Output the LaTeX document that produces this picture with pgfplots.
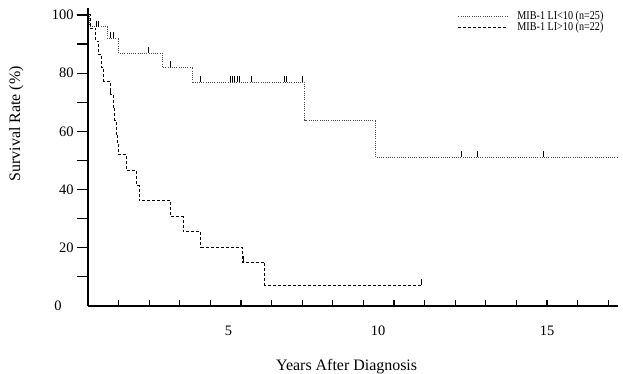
\documentclass[border=0pt]{standalone}
\usepackage{fontspec}
\setmainfont{Liberation Serif}
\usepackage{graphicx}
\usepackage{pgfplots}
\pgfplotsset{compat=1.18}
\newcommand{\mytf}{\fontsize{14.5}{16}\selectfont}
\newcommand{\mylf}{\fontsize{16}{18}\selectfont}
\pgfplotsset{
  common/.style={
    at={(0,0)}, anchor=south west,
    x=30.6bp, y=2.91bp,
    xmin=0, xmax=17.32, ymin=0, ymax=102.4,
    clip=false,
    /pgf/number format/assume math mode=true,
    tick style={line width=1.2bp, black},
  }
}
\begin{document}
\begin{tikzpicture}
\path[use as bounding box] (-88bp,-68bp) rectangle (535bp,306bp);
% main axis: curves, axis lines, x labels
\begin{axis}[
  common,
  axis lines=left,
  axis line style={line width=1.6bp, -},
  xtick=\empty, ytick=\empty,
  extra x ticks={4.59,9.48,15}, extra x tick labels={{\mytf 5},{\mytf 10},{\mytf 15}},
  extra x tick style={tick style={draw=none}, xticklabel style={yshift=-14.5bp}},
  xlabel={\mylf Years After Diagnosis}, ylabel={\mylf Survival Rate (\%)},
  xlabel style={at={(axis description cs:0.488,0)}, anchor=base, yshift=-64.5bp},
  ylabel style={at={(axis description cs:-0.128,0.611)}, anchor=base},
  legend style={draw=none, fill=none, at={(axis cs:12.09,101.3)}, anchor=north west,
    inner sep=0pt, outer sep=0pt, row sep=0pt, column sep=9.5bp,
    font=\fontsize{12}{12}\selectfont,
    nodes={inner sep=0pt, text height=8.4bp, text depth=2.6bp}},
  legend cell align=left,
  legend image code/.code={\draw[#1] (0bp,0bp) -- (49bp,0bp);},
]
% MIB-1 LI<10 (n=25)
\addplot[const plot, black!70, line width=1bp, dash pattern=on 1bp off 1.2bp] coordinates {
(0,100) (0.05,96) (0.63,92) (1.01,86.8) (2.44,82.0) (3.43,76.9) (7.09,63.9) (9.41,51.1) (17.32,51.1)};
\addlegendentry{\scalebox{0.85}[1]{MIB-1 LI<10 (n=25)}}
% MIB-1 LI>10 (n=22)
\addplot[const plot, black, line width=1bp, dash pattern=on 3bp off 2bp] coordinates {
(0,100) (0.08,95.5) (0.25,90.9) (0.35,86.4) (0.45,81.8) (0.52,77.3) (0.72,72.7) (0.82,68.2)
(0.88,63.6) (0.93,59.1) (0.97,55.5) (1.01,51.9) (1.26,46.5) (1.60,41.3) (1.67,36.1) (2.70,30.7)
(3.12,25.5) (3.69,20.2) (5.04,15.0) (5.78,7.2) (10.9,7.2)};
\addlegendentry{\scalebox{0.85}[1]{MIB-1 LI>10 (n=22)}}
% censor marks
\addplot[only marks, mark=|, mark size=3bp, mark options={solid, yshift=3bp, line width=0.9bp, black}, forget plot] coordinates {
(0.26,96) (0.33,96) (0.74,92) (0.83,92) (1.97,86.8) (2.68,82.0) (3.66,76.9)
(4.64,76.9) (4.72,76.9) (4.80,76.9) (4.88,76.9) (4.96,76.9) (5.33,76.9) (6.41,76.9) (6.49,76.9) (7.02,76.9)
(12.21,51.1) (12.72,51.1) (14.88,51.1)};
\addplot[only marks, mark=|, mark size=3bp, mark options={solid, yshift=3bp, line width=0.9bp, black}, forget plot] coordinates {
(0.75,72.7) (5.07,15.0) (10.9,7.2)};
\end{axis}
% second axis: y ticks and labels only
\begin{axis}[
  common,
  axis x line=none, axis y line=left,
  axis line style={line width=1.6bp, -},
  xtick=\empty,
  ytick={10,20,...,100}, yticklabels={,{\mytf 20},,{\mytf 40},,{\mytf 60},,{\mytf 80},,{\mytf 100}},
  ytick align=outside, major tick length=11bp,
  extra y ticks={0}, extra y tick labels={{\mytf 0}},
  extra y tick style={tick style={draw=none}, yticklabel style={xshift=-12bp}},
]
\end{axis}
% third axis: x tick marks only (their numbers are pushed off the page)
\begin{axis}[
  common,
  axis x line=bottom, axis y line=none,
  axis line style={line width=1.6bp, -},
  ytick=\empty,
  xtick={1,2,...,17},
  xtick align=inside, major tick length=6bp,
  xticklabel style={yshift=-400bp},
]
\end{axis}
\end{tikzpicture}
\end{document}
